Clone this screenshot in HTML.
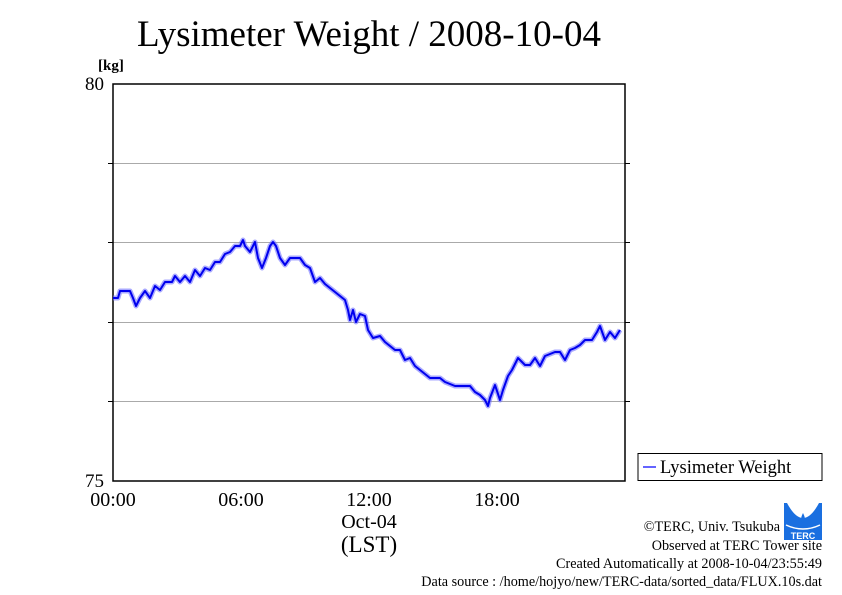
<!DOCTYPE html>
<html><head><meta charset="utf-8"><style>body{margin:0;background:#fff}svg{display:block}</style></head><body>
<svg width="842" height="595" viewBox="0 0 842 595" xmlns="http://www.w3.org/2000/svg" font-family="Liberation Serif, serif">
<text x="369" y="46" font-size="37" text-anchor="middle">Lysimeter Weight / 2008-10-04</text>
<text x="98" y="70" font-size="15" font-weight="bold">[kg]</text>
<g stroke="#aaa" stroke-width="1">
<line x1="113" y1="163.5" x2="625" y2="163.5"/><line x1="113" y1="242.5" x2="625" y2="242.5"/>
<line x1="113" y1="322.5" x2="625" y2="322.5"/><line x1="113" y1="401.5" x2="625" y2="401.5"/>
</g>
<rect x="113" y="84" width="512" height="397" fill="none" stroke="#000" stroke-width="1.5"/>
<g stroke="#000" stroke-width="1">
<line x1="108" y1="163.5" x2="113" y2="163.5"/><line x1="108" y1="242.5" x2="113" y2="242.5"/><line x1="108" y1="322.5" x2="113" y2="322.5"/><line x1="108" y1="401.5" x2="113" y2="401.5"/>
<line x1="625" y1="163.5" x2="630" y2="163.5"/><line x1="625" y1="242.5" x2="630" y2="242.5"/><line x1="625" y1="322.5" x2="630" y2="322.5"/><line x1="625" y1="401.5" x2="630" y2="401.5"/>
</g>
<text x="104" y="90" font-size="19" text-anchor="end">80</text>
<text x="104" y="487" font-size="19" text-anchor="end">75</text>
<g font-size="20" text-anchor="middle">
<text x="113" y="506">00:00</text><text x="241" y="506">06:00</text><text x="369" y="506">12:00</text><text x="497" y="506">18:00</text>
<text x="369" y="528">Oct-04</text>
<text x="369" y="552" font-size="23">(LST)</text>
</g>
<g fill="none" stroke-linejoin="round">
<polyline stroke="#7070ff" stroke-width="5" stroke-opacity="0.6" points="113,298 118,298 120,291 130,291 133,298 136,306 140,298 145,291 150,298 155,286 160,290 165,282 172,282 175,276 180,282 185,276 190,282 195,270 200,276 205,268 210,270 215,262 220,262 225,254 230,252 235,246 240,246 243,240 245,246 250,252 255,242 258,258 262,268 266,258 270,246 273,242 276,246 280,258 285,265 290,258 300,258 305,265 310,268 315,282 320,278 325,284 330,288 335,292 340,296 345,300 348,310 350,320 353,310 356,322 360,314 365,316 368,330 373,338 380,336 385,342 390,346 395,350 400,350 405,360 410,358 415,366 420,370 425,374 430,378 440,378 445,382 455,386 470,386 475,392 480,395 485,400 488,406 490,398 495,385 500,400 503,390 508,376 512,370 518,358 525,365 530,365 535,358 540,366 545,356 555,352 560,352 565,360 570,350 575,348 580,345 585,340 592,340 597,332 600,326 605,340 610,332 615,338 620,330"/>
<polyline stroke="#0000ee" stroke-width="2" points="113,298 118,298 120,291 130,291 133,298 136,306 140,298 145,291 150,298 155,286 160,290 165,282 172,282 175,276 180,282 185,276 190,282 195,270 200,276 205,268 210,270 215,262 220,262 225,254 230,252 235,246 240,246 243,240 245,246 250,252 255,242 258,258 262,268 266,258 270,246 273,242 276,246 280,258 285,265 290,258 300,258 305,265 310,268 315,282 320,278 325,284 330,288 335,292 340,296 345,300 348,310 350,320 353,310 356,322 360,314 365,316 368,330 373,338 380,336 385,342 390,346 395,350 400,350 405,360 410,358 415,366 420,370 425,374 430,378 440,378 445,382 455,386 470,386 475,392 480,395 485,400 488,406 490,398 495,385 500,400 503,390 508,376 512,370 518,358 525,365 530,365 535,358 540,366 545,356 555,352 560,352 565,360 570,350 575,348 580,345 585,340 592,340 597,332 600,326 605,340 610,332 615,338 620,330"/>
</g>
<rect x="638" y="453.5" width="184" height="27" fill="#fff" stroke="#000" stroke-width="1"/>
<line x1="643" y1="467" x2="656" y2="467" stroke="#3030ff" stroke-width="1.5"/>
<text x="660" y="473" font-size="18.5">Lysimeter Weight</text>
<g transform="translate(784,503)">
<rect width="38" height="37" fill="#1a6fe0"/>
<path d="M3,0 Q19,30 35,0" fill="#fff"/>
<path d="M19,10 Q15,18 19,20 Q23,18 19,10Z" fill="#1a6fe0"/>
<path d="M2,22 Q19,30 36,22" stroke="#fff" stroke-width="1.5" fill="none"/>
<text x="19" y="36" font-size="9" fill="#fff" text-anchor="middle" font-family="Liberation Sans, sans-serif" font-weight="bold">TERC</text>
</g>
<g font-size="14.2" text-anchor="end">
<text x="780" y="531">©TERC, Univ. Tsukuba</text>
<text x="822" y="550">Observed at TERC Tower site</text>
<text x="822" y="568">Created Automatically at 2008-10-04/23:55:49</text>
<text x="822" y="586">Data source : /home/hojyo/new/TERC-data/sorted_data/FLUX.10s.dat</text>
</g>
</svg>
</body></html>
